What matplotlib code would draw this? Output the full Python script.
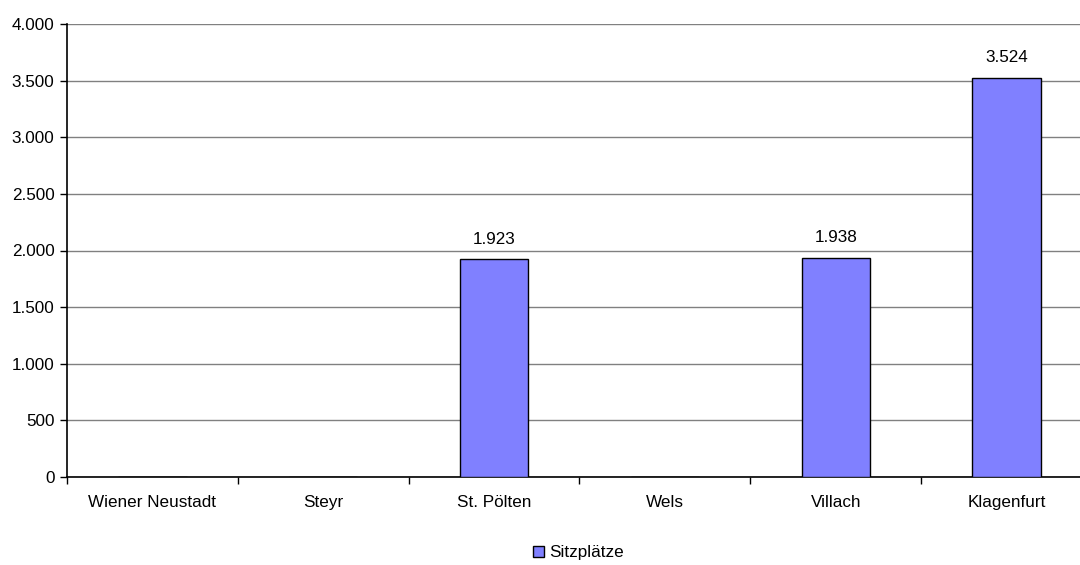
import matplotlib
matplotlib.use("Agg")
import matplotlib.pyplot as plt
from matplotlib.ticker import FuncFormatter, FixedLocator, MultipleLocator
from matplotlib.patches import Patch

plt.rcParams['font.family'] = ['Liberation Sans', 'DejaVu Sans']

cities = ["Wiener Neustadt", "Steyr", "St. Pölten", "Wels", "Villach", "Klagenfurt"]
seats = [0, 0, 1923, 0, 1938, 3524]
labels_shown = [False, False, True, False, True, True]
series_name = "Sitzplätze"

FS = 12.3

W, H = 1080, 565
fig = plt.figure(figsize=(W / 100, H / 100), dpi=100)
ax = fig.add_axes([67 / W, 88 / H, (1092 - 67) / W, (477 - 24) / H])

x = list(range(len(cities)))
ax.bar(x, seats, width=0.4, color="#8080FF", edgecolor="black", linewidth=1.0, zorder=3)

for xi, v, show in zip(x, seats, labels_shown):
    if show:
        ax.annotate(f"{v:,}".replace(",", "."), (xi, v), xytext=(0, 9), textcoords="offset points",
                    ha="center", va="bottom", fontsize=FS)

ax.set_xlim(-0.5, len(cities) - 0.5)
ax.set_ylim(0, 4000)
ax.yaxis.set_major_locator(MultipleLocator(500))
ax.yaxis.set_major_formatter(FuncFormatter(lambda v, p: f"{int(v):,}".replace(",", ".")))
ax.yaxis.grid(True, color="#808080", linewidth=1.0, zorder=0)

ax.set_xticks(x)
ax.set_xticklabels(cities, fontsize=FS)
ax.tick_params(axis="x", length=0, pad=13)
ax.xaxis.set_minor_locator(FixedLocator([i - 0.5 for i in range(len(cities) + 1)]))
ax.tick_params(axis="x", which="minor", length=5, width=1, color="black")
ax.tick_params(axis="y", length=5, width=1, labelsize=FS, pad=4)

for side in ["top", "right"]:
    ax.spines[side].set_visible(False)
ax.spines["left"].set_linewidth(1.2)
ax.spines["bottom"].set_linewidth(1.2)

handle = Patch(facecolor="#8080FF", edgecolor="black", linewidth=1.0)
fig.legend([handle], [series_name], loc="center", bbox_to_anchor=(578 / W, 1 - 553 / H),
           frameon=False, fontsize=FS, handlelength=0.65, handleheight=0.65, handletextpad=0.3)

fig.savefig("out.png", dpi=100)
